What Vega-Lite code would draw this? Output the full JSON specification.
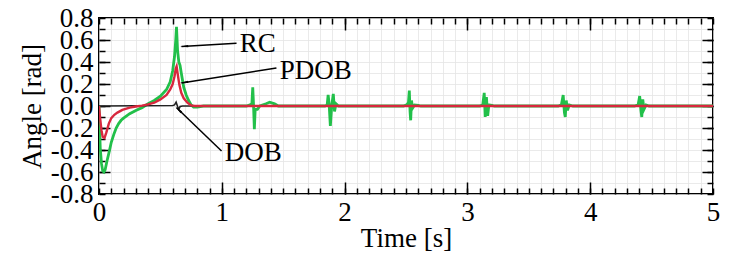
{
  "$schema": "https://vega.github.io/schema/vega-lite/v6.json",
  "width": 614,
  "height": 176,
  "autosize": {"type": "none"},
  "padding": {"left": 99, "top": 18, "right": 34, "bottom": 66},
  "background": "white",
  "config": {
    "view": {"stroke": "black", "strokeWidth": 2},
    "font": "Liberation Serif",
    "axis": {
      "domain": false,
      "labelFont": "Liberation Serif",
      "labelFontSize": 27,
      "labelColor": "black",
      "titleFont": "Liberation Serif",
      "titleFontSize": 27,
      "titleFontWeight": "normal",
      "titleColor": "black",
      "tickColor": "black",
      "tickWidth": 1.5,
      "grid": false
    }
  },
  "datasets": {
    "curves": [
      {"t": 0, "v": 0, "s": "RC"},
      {"t": 0.005, "v": -0.2, "s": "RC"},
      {"t": 0.01, "v": -0.38, "s": "RC"},
      {"t": 0.02, "v": -0.52, "s": "RC"},
      {"t": 0.03, "v": -0.59, "s": "RC"},
      {"t": 0.04, "v": -0.6, "s": "RC"},
      {"t": 0.05, "v": -0.58, "s": "RC"},
      {"t": 0.065, "v": -0.5, "s": "RC"},
      {"t": 0.08, "v": -0.43, "s": "RC"},
      {"t": 0.1, "v": -0.33, "s": "RC"},
      {"t": 0.12, "v": -0.26, "s": "RC"},
      {"t": 0.14, "v": -0.2, "s": "RC"},
      {"t": 0.16, "v": -0.16, "s": "RC"},
      {"t": 0.18, "v": -0.13, "s": "RC"},
      {"t": 0.2, "v": -0.11, "s": "RC"},
      {"t": 0.25, "v": -0.07, "s": "RC"},
      {"t": 0.3, "v": -0.04, "s": "RC"},
      {"t": 0.35, "v": -0.015, "s": "RC"},
      {"t": 0.4, "v": 0.02, "s": "RC"},
      {"t": 0.45, "v": 0.05, "s": "RC"},
      {"t": 0.5, "v": 0.09, "s": "RC"},
      {"t": 0.55, "v": 0.15, "s": "RC"},
      {"t": 0.58, "v": 0.22, "s": "RC"},
      {"t": 0.6, "v": 0.32, "s": "RC"},
      {"t": 0.615, "v": 0.45, "s": "RC"},
      {"t": 0.625, "v": 0.6, "s": "RC"},
      {"t": 0.631, "v": 0.72, "s": "RC"},
      {"t": 0.64, "v": 0.5, "s": "RC"},
      {"t": 0.65, "v": 0.4, "s": "RC"},
      {"t": 0.66, "v": 0.37, "s": "RC"},
      {"t": 0.67, "v": 0.3, "s": "RC"},
      {"t": 0.69, "v": 0.17, "s": "RC"},
      {"t": 0.71, "v": 0.1, "s": "RC"},
      {"t": 0.73, "v": 0.05, "s": "RC"},
      {"t": 0.75, "v": 0.01, "s": "RC"},
      {"t": 0.77, "v": -0.01, "s": "RC"},
      {"t": 0.8, "v": -0.01, "s": "RC"},
      {"t": 0.85, "v": 0, "s": "RC"},
      {"t": 1.2, "v": 0, "s": "RC"},
      {"t": 1.23, "v": 0.01, "s": "RC"},
      {"t": 1.245, "v": 0.02, "s": "RC"},
      {"t": 1.252, "v": 0.17, "s": "RC"},
      {"t": 1.258, "v": 0.02, "s": "RC"},
      {"t": 1.265, "v": -0.21, "s": "RC"},
      {"t": 1.272, "v": -0.03, "s": "RC"},
      {"t": 1.29, "v": -0.03, "s": "RC"},
      {"t": 1.31, "v": 0, "s": "RC"},
      {"t": 1.36, "v": 0.02, "s": "RC"},
      {"t": 1.39, "v": 0.035, "s": "RC"},
      {"t": 1.43, "v": 0.02, "s": "RC"},
      {"t": 1.46, "v": 0, "s": "RC"},
      {"t": 1.84, "v": 0, "s": "RC"},
      {"t": 1.858, "v": 0.01, "s": "RC"},
      {"t": 1.866, "v": 0.1, "s": "RC"},
      {"t": 1.874, "v": 0.02, "s": "RC"},
      {"t": 1.884, "v": -0.18, "s": "RC"},
      {"t": 1.895, "v": 0.0, "s": "RC"},
      {"t": 1.908, "v": 0.11, "s": "RC"},
      {"t": 1.918, "v": -0.05, "s": "RC"},
      {"t": 1.93, "v": 0.02, "s": "RC"},
      {"t": 1.95, "v": 0, "s": "RC"},
      {"t": 2.48, "v": 0, "s": "RC"},
      {"t": 2.505, "v": 0.01, "s": "RC"},
      {"t": 2.52, "v": 0.03, "s": "RC"},
      {"t": 2.527, "v": 0.14, "s": "RC"},
      {"t": 2.533, "v": -0.05, "s": "RC"},
      {"t": 2.538, "v": -0.13, "s": "RC"},
      {"t": 2.545, "v": 0.05, "s": "RC"},
      {"t": 2.553, "v": -0.02, "s": "RC"},
      {"t": 2.57, "v": 0.01, "s": "RC"},
      {"t": 2.6, "v": 0.005, "s": "RC"},
      {"t": 2.62, "v": 0, "s": "RC"},
      {"t": 3.1, "v": 0, "s": "RC"},
      {"t": 3.125, "v": 0.01, "s": "RC"},
      {"t": 3.137, "v": 0.12, "s": "RC"},
      {"t": 3.145, "v": -0.1, "s": "RC"},
      {"t": 3.155, "v": 0.08, "s": "RC"},
      {"t": 3.165, "v": -0.09, "s": "RC"},
      {"t": 3.175, "v": 0.01, "s": "RC"},
      {"t": 3.2, "v": 0.005, "s": "RC"},
      {"t": 3.22, "v": 0, "s": "RC"},
      {"t": 3.74, "v": 0, "s": "RC"},
      {"t": 3.765, "v": 0.01, "s": "RC"},
      {"t": 3.78, "v": 0.1, "s": "RC"},
      {"t": 3.79, "v": -0.06, "s": "RC"},
      {"t": 3.797, "v": -0.1, "s": "RC"},
      {"t": 3.805, "v": 0.05, "s": "RC"},
      {"t": 3.815, "v": -0.04, "s": "RC"},
      {"t": 3.83, "v": 0.01, "s": "RC"},
      {"t": 3.86, "v": 0, "s": "RC"},
      {"t": 4.36, "v": 0, "s": "RC"},
      {"t": 4.39, "v": 0.01, "s": "RC"},
      {"t": 4.403, "v": 0.09, "s": "RC"},
      {"t": 4.413, "v": -0.04, "s": "RC"},
      {"t": 4.42, "v": -0.1, "s": "RC"},
      {"t": 4.428, "v": 0.06, "s": "RC"},
      {"t": 4.438, "v": -0.03, "s": "RC"},
      {"t": 4.455, "v": 0.01, "s": "RC"},
      {"t": 4.48, "v": 0, "s": "RC"},
      {"t": 5, "v": 0, "s": "RC"},
      {"t": 0, "v": 0, "s": "PDOB"},
      {"t": 0.01, "v": -0.12, "s": "PDOB"},
      {"t": 0.02, "v": -0.22, "s": "PDOB"},
      {"t": 0.03, "v": -0.28, "s": "PDOB"},
      {"t": 0.045, "v": -0.29, "s": "PDOB"},
      {"t": 0.06, "v": -0.24, "s": "PDOB"},
      {"t": 0.08, "v": -0.16, "s": "PDOB"},
      {"t": 0.1, "v": -0.11, "s": "PDOB"},
      {"t": 0.125, "v": -0.08, "s": "PDOB"},
      {"t": 0.15, "v": -0.06, "s": "PDOB"},
      {"t": 0.19, "v": -0.035, "s": "PDOB"},
      {"t": 0.25, "v": -0.015, "s": "PDOB"},
      {"t": 0.3, "v": -0.005, "s": "PDOB"},
      {"t": 0.35, "v": 0.003, "s": "PDOB"},
      {"t": 0.4, "v": 0.015, "s": "PDOB"},
      {"t": 0.45, "v": 0.03, "s": "PDOB"},
      {"t": 0.5, "v": 0.06, "s": "PDOB"},
      {"t": 0.55, "v": 0.1, "s": "PDOB"},
      {"t": 0.58, "v": 0.15, "s": "PDOB"},
      {"t": 0.6, "v": 0.2, "s": "PDOB"},
      {"t": 0.615, "v": 0.27, "s": "PDOB"},
      {"t": 0.625, "v": 0.34, "s": "PDOB"},
      {"t": 0.632, "v": 0.36, "s": "PDOB"},
      {"t": 0.645, "v": 0.26, "s": "PDOB"},
      {"t": 0.655, "v": 0.19, "s": "PDOB"},
      {"t": 0.67, "v": 0.12, "s": "PDOB"},
      {"t": 0.69, "v": 0.07, "s": "PDOB"},
      {"t": 0.72, "v": 0.03, "s": "PDOB"},
      {"t": 0.75, "v": 0.005, "s": "PDOB"},
      {"t": 0.78, "v": 0, "s": "PDOB"},
      {"t": 5, "v": 0, "s": "PDOB"},
      {"t": 0, "v": 0, "s": "DOB"},
      {"t": 0.6, "v": 0.005, "s": "DOB"},
      {"t": 0.615, "v": 0.01, "s": "DOB"},
      {"t": 0.628, "v": 0.035, "s": "DOB"},
      {"t": 0.64, "v": -0.005, "s": "DOB"},
      {"t": 0.65, "v": -0.03, "s": "DOB"},
      {"t": 0.66, "v": -0.005, "s": "DOB"},
      {"t": 0.68, "v": 0, "s": "DOB"},
      {"t": 5, "v": 0, "s": "DOB"}
    ],
    "notes": [
      {"label": "RC", "x0": 1.12, "y0": 0.571, "x1": 0.672, "y1": 0.541, "hx": 0.704, "hy": 0.543, "tx": 1.146, "ty": 0.565},
      {"label": "PDOB", "x0": 1.445, "y0": 0.345, "x1": 0.672, "y1": 0.21, "hx": 0.704, "hy": 0.216, "tx": 1.472, "ty": 0.32},
      {"label": "DOB", "x0": 0.998, "y0": -0.409, "x1": 0.632, "y1": -0.016, "hx": 0.655, "hy": -0.041, "tx": 1.024, "ty": -0.43}
    ]
  },
  "layer": [
    {
      "data": {"name": "curves"},
      "transform": [{"filter": "datum.s === 'RC'"}],
      "mark": {"type": "line", "color": "#22c04a", "strokeWidth": 2.8, "clip": true},
      "encoding": {
        "x": {
          "field": "t", "type": "quantitative",
          "scale": {"domain": [0, 5], "nice": false, "zero": false},
          "axis": {
            "orient": "bottom",
            "values": [0,0.1,0.2,0.3,0.4,0.5,0.6,0.7,0.8,0.9,1,1.1,1.2,1.3,1.4,1.5,1.6,1.7,1.8,1.9,2,2.1,2.2,2.3,2.4,2.5,2.6,2.7,2.8,2.9,3,3.1,3.2,3.3,3.4,3.5,3.6,3.7,3.8,3.9,4,4.1,4.2,4.3,4.4,4.5,4.6,4.7,4.8,4.9,5],
            "tickSize": -6,
            "labelExpr": "datum.value % 1 == 0 ? '' + datum.value : ''",
            "labelPadding": 11,
            "labelFlush": false,
            "labelOverlap": false,
            "labelDx": 3,
            "grid": true,
            "gridColor": "#e4e4e4",
            "gridWidth": 0.8,
            "title": "Time [s]",
            "titlePadding": 0
          }
        },
        "y": {
          "field": "v", "type": "quantitative",
          "scale": {"domain": [-0.8, 0.8], "nice": false, "zero": false},
          "axis": {
            "orient": "left",
            "values": [-0.8,-0.7,-0.6,-0.5,-0.4,-0.3,-0.2,-0.1,0,0.1,0.2,0.3,0.4,0.5,0.6,0.7,0.8],
            "tickSize": -6,
            "labelExpr": "abs(round(datum.value*10)) % 2 == 0 ? (datum.value < -0.001 ? '-' : '') + format(abs(datum.value), '.1f') : ''",
            "labelPadding": 12,
            "labelOverlap": false,
            "labelFlush": false,
            "grid": true,
            "gridColor": "#e4e4e4",
            "gridWidth": 0.8,
            "title": "Angle [rad]",
            "titlePadding": 4
          }
        }
      }
    },
    {
      "data": {"name": "curves"},
      "transform": [{"filter": "datum.s === 'DOB'"}],
      "mark": {"type": "line", "color": "#222222", "strokeWidth": 1.6, "clip": true},
      "encoding": {
        "x": {
          "field": "t", "type": "quantitative",
          "scale": {"domain": [0, 5], "nice": false, "zero": false},
          "axis": {"orient": "bottom", "values": [1, 2, 3, 4], "tickSize": -12, "labels": false, "grid": false, "title": null}
        },
        "y": {
          "field": "v", "type": "quantitative",
          "scale": {"domain": [-0.8, 0.8], "nice": false, "zero": false},
          "axis": {"orient": "left", "values": [-0.6,-0.4,-0.2,0,0.2,0.4,0.6], "tickSize": -11, "labels": false, "grid": false, "title": null}
        }
      }
    },
    {
      "data": {"name": "curves"},
      "transform": [{"filter": "datum.s === 'PDOB'"}],
      "mark": {"type": "line", "color": "#d8283e", "strokeWidth": 2.4, "clip": true},
      "encoding": {
        "x": {
          "field": "t", "type": "quantitative",
          "scale": {"domain": [0, 5], "nice": false, "zero": false},
          "axis": {
            "orient": "top",
            "values": [0,0.1,0.2,0.3,0.4,0.5,0.6,0.7,0.8,0.9,1,1.1,1.2,1.3,1.4,1.5,1.6,1.7,1.8,1.9,2,2.1,2.2,2.3,2.4,2.5,2.6,2.7,2.8,2.9,3,3.1,3.2,3.3,3.4,3.5,3.6,3.7,3.8,3.9,4,4.1,4.2,4.3,4.4,4.5,4.6,4.7,4.8,4.9,5],
            "tickSize": -6, "labels": false, "grid": false, "title": null
          }
        },
        "y": {
          "field": "v", "type": "quantitative",
          "scale": {"domain": [-0.8, 0.8], "nice": false, "zero": false},
          "axis": {
            "orient": "right",
            "values": [-0.8,-0.7,-0.6,-0.5,-0.4,-0.3,-0.2,-0.1,0,0.1,0.2,0.3,0.4,0.5,0.6,0.7,0.8],
            "tickSize": -6, "labels": false, "grid": false, "title": null
          }
        }
      }
    },
    {
      "data": {"name": "notes"},
      "mark": {"type": "rule", "color": "black", "strokeWidth": 1.5},
      "encoding": {
        "x": {
          "field": "x0", "type": "quantitative",
          "scale": {"domain": [0, 5], "nice": false, "zero": false},
          "axis": {"orient": "top", "values": [1, 2, 3, 4], "tickSize": -12, "labels": false, "grid": false, "title": null}
        },
        "y": {
          "field": "y0", "type": "quantitative",
          "scale": {"domain": [-0.8, 0.8], "nice": false, "zero": false},
          "axis": {"orient": "right", "values": [-0.6,-0.4,-0.2,0,0.2,0.4,0.6], "tickSize": -11, "labels": false, "grid": false, "title": null}
        },
        "x2": {"field": "x1"},
        "y2": {"field": "y1"}
      }
    },
    {
      "data": {"name": "notes"},
      "transform": [{"filter": "datum.label === 'RC'"}],
      "mark": {"type": "point", "shape": "wedge", "filled": true, "color": "black", "size": 90, "angle": 266, "opacity": 1},
      "encoding": {
        "x": {"field": "hx", "type": "quantitative", "axis": null},
        "y": {"field": "hy", "type": "quantitative", "axis": null}
      }
    },
    {
      "data": {"name": "notes"},
      "transform": [{"filter": "datum.label === 'PDOB'"}],
      "mark": {"type": "point", "shape": "wedge", "filled": true, "color": "black", "size": 90, "angle": 261, "opacity": 1},
      "encoding": {
        "x": {"field": "hx", "type": "quantitative", "axis": null},
        "y": {"field": "hy", "type": "quantitative", "axis": null}
      }
    },
    {
      "data": {"name": "notes"},
      "transform": [{"filter": "datum.label === 'DOB'"}],
      "mark": {"type": "point", "shape": "wedge", "filled": true, "color": "black", "size": 90, "angle": 314, "opacity": 1},
      "encoding": {
        "x": {"field": "hx", "type": "quantitative", "axis": null},
        "y": {"field": "hy", "type": "quantitative", "axis": null}
      }
    },
    {
      "data": {"name": "notes"},
      "mark": {"type": "text", "font": "Liberation Serif", "fontSize": 27, "align": "left", "baseline": "middle", "color": "black"},
      "encoding": {
        "x": {"field": "tx", "type": "quantitative", "axis": null},
        "y": {"field": "ty", "type": "quantitative", "axis": null},
        "text": {"field": "label"}
      }
    }
  ],
  "resolve": {"axis": {"x": "independent", "y": "independent"}}
}
